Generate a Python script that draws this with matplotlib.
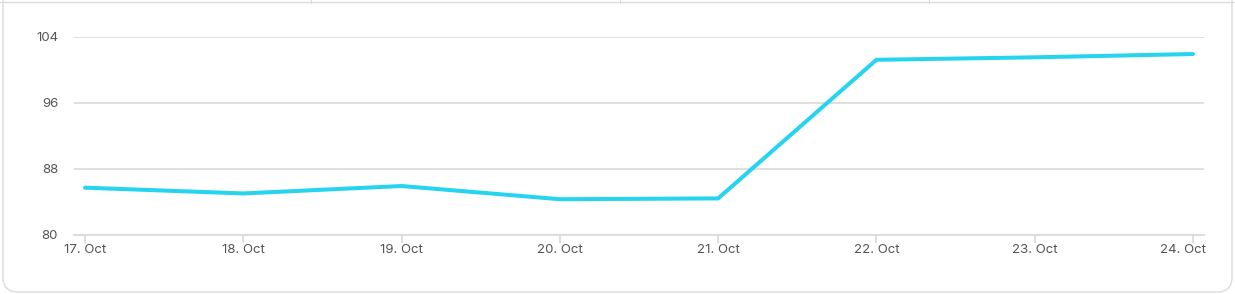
import matplotlib.pyplot as plt
import matplotlib.transforms as mtransforms
from matplotlib.patches import FancyBboxPatch
from matplotlib.lines import Line2D

dates = ["17. Oct", "18. Oct", "19. Oct", "20. Oct", "21. Oct", "22. Oct", "23. Oct", "24. Oct"]
values = [85.7, 85.0, 85.9, 84.3, 84.4, 101.2, 101.5, 101.9]
y_ticks = [80, 88, 96, 104]

plt.rcParams['font.family'] = ['Inter', 'DejaVu Sans']

fig = plt.figure(figsize=(12.35, 2.94), dpi=100)

# card background with rounded border (in inches)
card = FancyBboxPatch((0.03, 0.02), 12.29, 3.2,
                      boxstyle="round,pad=0,rounding_size=0.15",
                      transform=fig.dpi_scale_trans, facecolor='white',
                      edgecolor='#dcdcdc', linewidth=1.0, zorder=-5)
fig.patches.append(card)
# thin line along the top edge (edge of the card above)
fig.lines.append(Line2D([0, 1], [1 - 1.5 / 294, 1 - 1.5 / 294], transform=fig.transFigure,
                        color='#dcdcdc', linewidth=1.0))
for px in [311, 620, 929]:
    fig.lines.append(Line2D([px / 1235, px / 1235], [1, 1 - 3 / 294], transform=fig.transFigure,
                            color='#dcdcdc', linewidth=0.8))

ax = fig.add_axes([74 / 1235, 59.3 / 294, 1130 / 1235, 198 / 294])
x = list(range(len(dates)))
ax.plot(x, values, color='#26d4f0', linewidth=2.9, solid_capstyle='round', solid_joinstyle='miter', zorder=3)

ax.set_ylim(80, 104)
ax.set_yticks(y_ticks)
ax.set_xlim(-0.0695, len(dates) - 1 + 0.0695)
ax.set_xticks(x)
ax.set_xticklabels(dates)

ax.grid(axis='y', color='#d9d9d9', linewidth=1.2)
ax.set_axisbelow(True)
for s in ['top', 'right', 'left']:
    ax.spines[s].set_visible(False)
ax.spines['bottom'].set_color('#d9d9d9')
ax.spines['bottom'].set_linewidth(1.2)

ax.tick_params(axis='y', length=0, pad=11.5, labelsize=9.5, labelcolor='#555555')
ax.tick_params(axis='x', length=6, width=1.2, color='#d9d9d9', pad=1, labelsize=9.5, labelcolor='#555555')
ax.patch.set_alpha(0)

# keep last label inside the plot area
last = ax.get_xticklabels()[-1]
last.set_horizontalalignment('right')
last.set_transform(last.get_transform() + mtransforms.ScaledTranslation(13 / 100, 0, fig.dpi_scale_trans))

fig.savefig("out.png", dpi=100)
